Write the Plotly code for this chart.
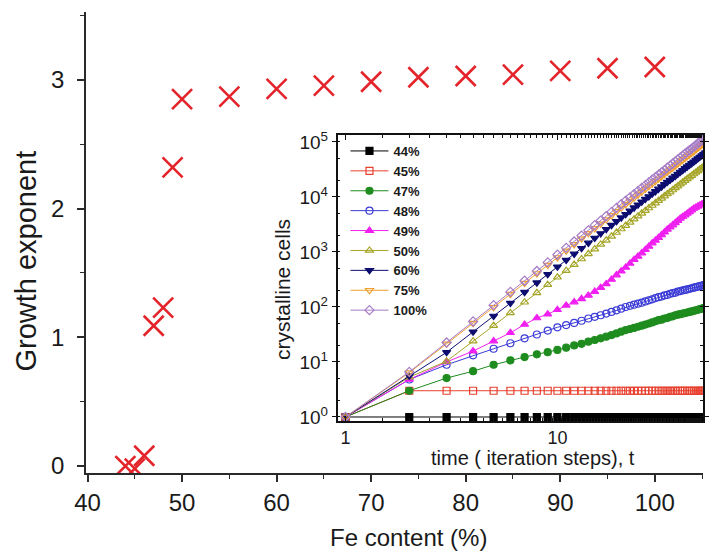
import plotly.graph_objects as go

# ---------------- main plot data ----------------
fe_content = [44, 45, 46, 47, 48, 49, 50, 55, 60, 65, 70, 75, 80, 85, 90, 95, 100]
growth_exponent = [0.0, -0.02, 0.08, 1.09, 1.23, 2.32, 2.85, 2.87, 2.93, 2.955,
                   2.985, 3.02, 3.03, 3.04, 3.07, 3.09, 3.10]

# ---------------- inset data ----------------
time_steps = [1, 2, 3, 4, 5, 6, 7, 8, 9, 10, 11, 12, 13, 14, 15, 16, 17, 18, 19, 20,
              21, 22, 23, 24, 25, 26, 27, 28, 29, 30, 31, 32, 33, 34, 35, 36, 37, 38, 39, 40,
              41, 42, 43, 44, 45, 46, 47, 48, 49, 50]

cells_44 = [1, 1, 1, 1, 1, 1, 1, 1, 1, 1, 1, 1, 1, 1, 1, 1, 1, 1, 1, 1,
            1, 1, 1, 1, 1, 1, 1, 1, 1, 1, 1, 1, 1, 1, 1, 1, 1, 1, 1, 1,
            1, 1, 1, 1, 1, 1, 1, 1, 1, 1]
cells_45 = [1, 3, 3, 3, 3, 3, 3, 3, 3, 3, 3, 3, 3, 3, 3, 3, 3, 3, 3, 3,
            3, 3, 3, 3, 3, 3, 3, 3, 3, 3, 3, 3, 3, 3, 3, 3, 3, 3, 3, 3,
            3, 3, 3, 3, 3, 3, 3, 3, 3, 3]
cells_47 = [1, 3, 5.1, 6.8, 8.9, 10.7, 12.3, 13.8, 15.1, 16.6, 18.2, 20, 21.4, 23.4, 25.1,
            26.9, 28.8, 30.9, 33.1, 35.5, 38, 39.8, 41.7, 43.7, 45.7, 47.9, 50.1, 52.5, 55, 57.5,
            58.9, 61.7, 63.1, 66.1, 67.6, 70.8, 72.4, 74.1, 75.9, 77.6, 79.4, 81.3, 83.2, 85.1,
            87.1, 89.1, 91.2, 93.3, 95.5, 97.7]
cells_48 = [1, 4.8, 8.9, 13.2, 17.4, 21.9, 26.9, 31.6, 37.2, 42.7, 46.8, 51.3, 56.2, 61.7, 66.1,
            70.8, 75.9, 81.3, 87.1, 93.3, 100, 105, 110, 115, 120, 126, 132, 138, 145, 151,
            155, 162, 166, 174, 178, 182, 191, 195, 200, 204, 209, 214, 219, 224, 229,
            234, 240, 245, 251, 257]
cells_49 = [1, 4.8, 10, 15.8, 24, 34, 48, 63, 74, 89, 107, 123, 141, 162, 191, 224, 263, 316,
            380, 447, 525, 617, 724, 832, 955, 1100, 1260, 1450, 1620, 1820, 2040, 2290, 2570,
            2820, 3090, 3390, 3720, 4070, 4370, 4680, 5010, 5370, 5750, 6170, 6460, 6760,
            7080, 7410, 7760, 8130]
cells_50 = [1, 5.3, 10.3, 23.9, 45.8, 78, 122, 181, 255, 347, 457, 590, 746, 925, 1130, 1370,
            1630, 1930, 2260, 2620, 3020, 3460, 3950, 4470, 5040, 5650, 6300, 7000, 7740, 8570,
            9420, 10400, 11400, 12300, 13400, 14600, 15800, 17100, 18500, 19900, 21400, 22900,
            24400, 26200, 28000, 29900, 31800, 33800, 35900, 38100]
cells_60 = [1, 5.6, 15.0, 35.3, 68.5, 118, 186, 277, 392, 537, 711, 923, 1170, 1460, 1790, 2170,
            2590, 3070, 3620, 4210, 4850, 5570, 6380, 7230, 8170, 9180, 10200, 11400, 12600,
            14000, 15400, 17000, 18700, 20300, 22200, 24000, 26100, 28400, 30500, 33000, 35600,
            38000, 40700, 43700, 46700, 50000, 53200, 56600, 60100, 64000]
cells_75 = [1, 6.4, 21.4, 50.8, 99, 171, 272, 406, 578, 794, 1050, 1370, 1750, 2180, 2680, 3250,
            3890, 4620, 5460, 6350, 7350, 8430, 9680, 11000, 12400, 14000, 15600, 17400, 19300,
            21400, 23600, 26000, 28600, 31100, 34000, 37000, 40200, 43700, 47100, 50800, 54800,
            58700, 63000, 67400, 72300, 77400, 82400, 87700, 93300, 99300]
cells_100 = [1, 6.6, 22.6, 54.5, 108, 188, 300, 451, 646, 891, 1190, 1550, 1990, 2480, 3070,
             3730, 4490, 5350, 6320, 7380, 8550, 9840, 11300, 12900, 14600, 16400, 18400, 20600,
             22900, 25400, 28100, 30900, 34100, 37200, 40600, 44300, 48100, 52400, 56600, 61100,
             66100, 70800, 76000, 81500, 87500, 93800, 100000, 106000, 114000, 121000]

series_labels = ["44%", "45%", "47%", "48%", "49%", "50%", "60%", "75%", "100%"]
series_values = [cells_44, cells_45, cells_47, cells_48, cells_49, cells_50,
                 cells_60, cells_75, cells_100]

inset_y_tickvals = [1, 10, 100, 1000, 10000, 100000]
inset_y_ticktext = ["10<sup>0</sup>", "10<sup>1</sup>", "10<sup>2</sup>",
                    "10<sup>3</sup>", "10<sup>4</sup>", "10<sup>5</sup>"]
inset_x_tickvals = [1, 10]
inset_x_ticktext = ["1", "10"]

# ---------------- styles ----------------
series_styles = [
    dict(color="#000000", symbol="square"),
    dict(color="#e8402f", symbol="square-open"),
    dict(color="#1e8c1e", symbol="circle"),
    dict(color="#3b3bd6", symbol="circle-open"),
    dict(color="#f020f0", symbol="triangle-up"),
    dict(color="#a5a528", symbol="triangle-up-open"),
    dict(color="#0d0d70", symbol="triangle-down"),
    dict(color="#f0a030", symbol="triangle-down-open"),
    dict(color="#a77cc8", symbol="diamond-open"),
]

W, H = 709, 559
ML, MR, MT, MB = 86, 0, 12, 86
PW, PH = W - ML - MR, H - MT - MB


def px_x(px):
    return (px - ML) / PW


def px_y(py):
    return (H - MB - py) / PH


FONT = "Liberation Sans, Arial, sans-serif"
AXC = "#2a2a2a"

fig = go.Figure()

fig.add_trace(go.Scatter(
    x=fe_content, y=growth_exponent, mode="markers", showlegend=False,
    marker=dict(symbol="x-thin", size=20, color="#e3242b",
                line=dict(width=2.6, color="#e3242b")),
    xaxis="x", yaxis="y"))

for lab, vals, st in zip(series_labels, series_values, series_styles):
    fig.add_trace(go.Scatter(
        x=time_steps, y=vals, mode="lines+markers", name=lab,
        line=dict(color=st["color"], width=1),
        marker=dict(symbol=st["symbol"], size=7, color=st["color"],
                    line=dict(width=1.2, color=st["color"])),
        xaxis="x2", yaxis="y2"))

fig.update_layout(
    width=W, height=H, autosize=False,
    margin=dict(l=ML, r=MR, t=MT, b=MB, pad=0),
    paper_bgcolor="white", plot_bgcolor="white",
    font=dict(family=FONT, color="#1a1a1a"),
    xaxis=dict(
        domain=[0, 1], range=[39.84, 105.1], showgrid=False, zeroline=False,
        showline=True, linecolor=AXC, linewidth=1.5,
        ticks="outside", ticklen=7, tickwidth=1.5, tickcolor=AXC,
        tick0=40, dtick=10, tickfont=dict(size=24, color="#1a1a1a"),
        minor=dict(ticks="outside", ticklen=4, tickwidth=1.2, tickcolor=AXC, dtick=5,
                   showgrid=False),
        anchor="y"),
    yaxis=dict(
        domain=[0, 1], range=[-0.054, 3.527], showgrid=False, zeroline=False,
        showline=True, linecolor=AXC, linewidth=1.5,
        ticks="outside", ticklen=7, tickwidth=1.5, tickcolor=AXC,
        tick0=0, dtick=1, tickfont=dict(size=24, color="#1a1a1a"),
        ticklabelstandoff=8,
        minor=dict(ticks="outside", ticklen=4, tickwidth=1.2, tickcolor=AXC, dtick=0.5,
                   showgrid=False),
        anchor="x"),
    xaxis2=dict(
        type="log", domain=[px_x(340), 1.0], range=[-0.0374, 1.687],
        showgrid=False, zeroline=False, showline=True, mirror="ticks",
        linecolor="#111", linewidth=1.5,
        ticks="inside", ticklen=5, tickwidth=1.2, tickcolor="#111",
        tickvals=inset_x_tickvals, ticktext=inset_x_ticktext,
        tickfont=dict(size=18, color="#1a1a1a"),
        minor=dict(ticks="inside", ticklen=3, tickwidth=1, tickcolor="#111", showgrid=False),
        anchor="y2"),
    yaxis2=dict(
        type="log", domain=[px_y(421), px_y(135)], range=[-0.073, 5.127],
        showgrid=False, zeroline=False, showline=True, mirror="ticks",
        linecolor="#111", linewidth=1.5,
        ticks="outside", ticklen=4, tickwidth=1.2, tickcolor="#111",
        tickvals=inset_y_tickvals, ticktext=inset_y_ticktext,
        tickfont=dict(size=19, color="#1a1a1a"),
        minor=dict(ticks="inside", ticklen=3, tickwidth=1, tickcolor="#111", showgrid=False),
        anchor="x2"),
    legend=dict(
        x=px_x(348), y=px_y(136), xanchor="left", yanchor="top",
        bgcolor="rgba(0,0,0,0)", borderwidth=0,
        font=dict(size=13, family=FONT, color="#1a1a1a", weight="bold"),
        tracegroupgap=0, itemwidth=38),
    annotations=[
        dict(text="Growth exponent", x=px_x(25), y=px_y(261), xref="paper", yref="paper",
             showarrow=False, textangle=-90, xanchor="center", yanchor="middle",
             font=dict(size=29, family=FONT, color="#1a1a1a")),
        dict(text="Fe content (%)", x=px_x(412), y=px_y(537), xref="paper", yref="paper",
             showarrow=False, xanchor="center", yanchor="middle",
             font=dict(size=24, family=FONT, color="#1a1a1a")),
        dict(text="crystalline cells", x=px_x(284), y=px_y(290), xref="paper", yref="paper",
             showarrow=False, textangle=-90, xanchor="center", yanchor="middle",
             font=dict(size=21, family=FONT, color="#1a1a1a")),
        dict(text="time ( iteration steps), t", x=px_x(537), y=px_y(458), xref="paper",
             yref="paper", showarrow=False, xanchor="center", yanchor="middle",
             font=dict(size=20, family=FONT, color="#1a1a1a")),
    ],
)

fig.write_html("out.html")
